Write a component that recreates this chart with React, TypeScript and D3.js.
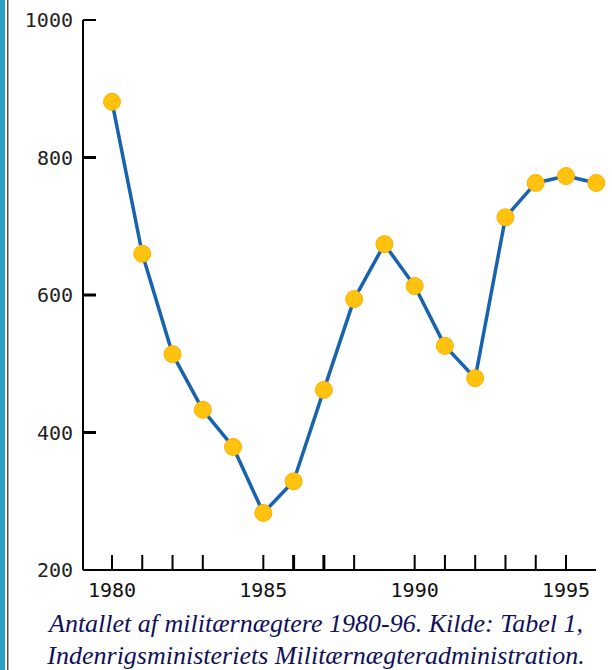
import React from 'react';
import * as d3 from 'd3';

const years = [1980, 1981, 1982, 1983, 1984, 1985, 1986, 1987, 1988, 1989, 1990, 1991, 1992, 1993, 1994, 1995, 1996];
const counts = [881, 660, 514, 433, 379, 283, 329, 462, 594, 674, 613, 526, 479, 713, 763, 773, 763];
const yTicks = [200, 400, 600, 800, 1000];
const xTickYears = [1980, 1981, 1982, 1983, 1985, 1986, 1987, 1988, 1990, 1991, 1992, 1993, 1994, 1995];
const xLabels = [1980, 1985, 1990, 1995];
const boldTicks = [1986, 1987];
const captionLines = [
  'Antallet af militærnægtere 1980-96. Kilde: Tabel 1,',
  'Indenrigsministeriets Militærnægteradministration.',
];

const W = 612;
const H = 670;

const App = () => {
  const x = d3.scaleLinear().domain([1980, 1995]).range([112, 566]);
  const y = d3.scaleLinear().domain([200, 1000]).range([570, 20]);
  const line = d3.line<number>()
    .x((_, i) => x(years[i]))
    .y(d => y(d));
  const axisX = 83;
  const axisY = y(200);

  return (
    <svg width={W} height={H} style={{ position: 'absolute', left: 0, top: 0, background: '#fff' }}>
      {/* left frame */}
      <rect x={0} y={0} width={5} height={H} fill="#2a9fc6" />
      <rect x={7} y={0} width={1.5} height={H} fill="#555" />

      {/* axes */}
      <line x1={axisX} x2={axisX} y1={y(1000)} y2={axisY} stroke="#000" strokeWidth={2} />
      <line x1={axisX} x2={596} y1={axisY} y2={axisY} stroke="#000" strokeWidth={2} />
      {yTicks.filter(t => t > 200).map(t => (
        <line key={t} x1={axisX} x2={axisX + 13} y1={y(t)} y2={y(t)} stroke="#000" strokeWidth={t === 1000 ? 2 : 3} />
      ))}
      {yTicks.map(t => (
        <text key={'l' + t} x={73} y={y(t) + 7} textAnchor="end" fontFamily="DejaVu Sans Mono" fontSize={20} fill="#222">{t}</text>
      ))}
      {xTickYears.map(t => (
        <line key={t} x1={x(t)} x2={x(t)} y1={axisY} y2={axisY - 15} stroke="#000" strokeWidth={boldTicks.includes(t) ? 3 : 2} />
      ))}
      {xLabels.map(t => (
        <text key={'x' + t} x={x(t)} y={597} textAnchor="middle" fontFamily="DejaVu Sans Mono" fontSize={20} fill="#111">{t}</text>
      ))}

      {/* series */}
      <path d={line(counts) || ''} fill="none" stroke="#1763ad" strokeWidth={3.5} strokeLinejoin="round" />
      {counts.map((c, i) => (
        <circle key={i} cx={x(years[i])} cy={y(c)} r={8.5} fill="#ffc20e" stroke="#ffb000" strokeWidth={1} />
      ))}

      {/* caption */}
      {captionLines.map((s, i) => (
        <text key={i} x={316} y={632 + i * 32} textAnchor="middle" fontFamily="'Liberation Serif', 'Times New Roman', serif" fontStyle="italic" fontSize={26} fill="#10105a">{s}</text>
      ))}
    </svg>
  );
};

export default App;
